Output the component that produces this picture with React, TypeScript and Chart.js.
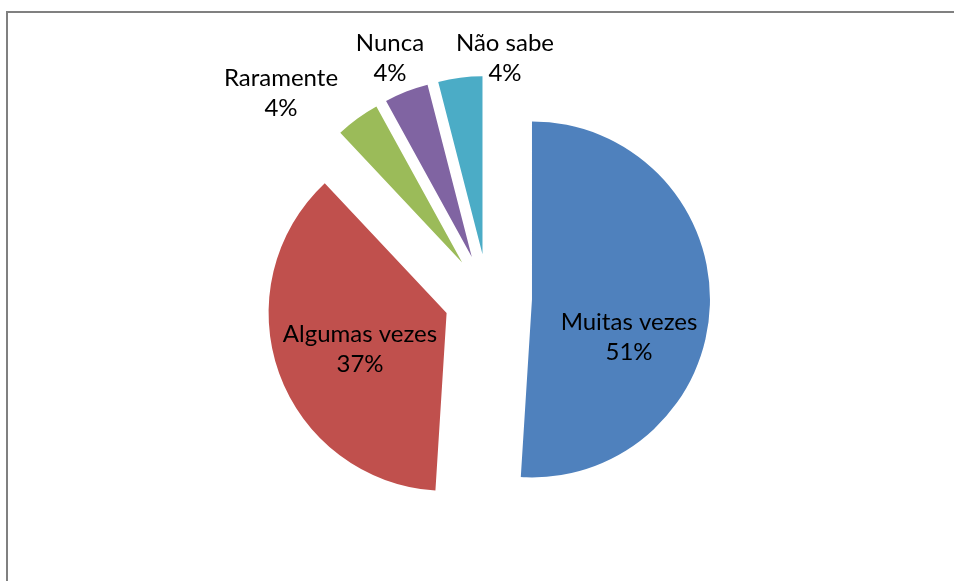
import React, { useEffect, useRef } from "react";
import { Chart, registerables } from "chart.js";

Chart.register(...registerables);

const categories = ["Muitas vezes", "Algumas vezes", "Raramente", "Nunca", "Não sabe"];
const values = [51, 37, 4, 4, 4];
const percentLabels = ["51%", "37%", "4%", "4%", "4%"];
const colors = ["#4F81BD", "#C0504D", "#9BBB59", "#8064A2", "#4BACC6"];
// how far each slice is pulled out of the pie (px)
const explode = [44, 44, 44, 44, 44];
// label block centre, relative to the pie centre (px)
const labelOffsets: [number, number][] = [
  [141, 39],
  [-128, 51],
  [-207, -205],
  [-98, -240],
  [17, -240],
];

const FONT = "24px Lato, 'Open Sans', sans-serif";
const LINE = 30;

const explodePlugin = {
  id: "explodedSlices",
  beforeDatasetDraw(chart: any, args: any) {
    const ctx = chart.ctx;
    const meta = chart.getDatasetMeta(args.index);
    meta.data.forEach((arc: any, i: number) => {
      const mid = (arc.startAngle + arc.endAngle) / 2;
      const d = explode[i] || 0;
      ctx.save();
      ctx.translate(Math.cos(mid) * d, Math.sin(mid) * d);
      arc.draw(ctx);
      ctx.restore();
    });
    return false;
  },
};

const labelPlugin = {
  id: "sliceLabels",
  afterDatasetsDraw(chart: any) {
    const ctx = chart.ctx;
    const meta = chart.getDatasetMeta(0);
    ctx.save();
    ctx.font = FONT;
    ctx.fillStyle = "#000000";
    ctx.textAlign = "center";
    ctx.textBaseline = "middle";
    meta.data.forEach((arc: any, i: number) => {
      const [dx, dy] = labelOffsets[i];
      const x = arc.x + dx;
      const y = arc.y + dy;
      ctx.fillText(categories[i], x, y - LINE / 2);
      ctx.fillText(percentLabels[i], x, y + LINE / 2);
    });
    ctx.restore();
  },
};

export default function App() {
  const ref = useRef<HTMLCanvasElement | null>(null);
  useEffect(() => {
    if (!ref.current) return;
    const chart = new Chart(ref.current, {
      type: "pie",
      data: {
        labels: categories,
        datasets: [
          {
            data: values,
            backgroundColor: colors,
            borderWidth: 0,
            offset: 0,
          },
        ],
      },
      options: {
        responsive: false,
        animation: false,
        radius: 178,
        layout: { padding: { left: 22, top: 15, right: 0, bottom: 0 } },
        plugins: {
          legend: { display: false },
          tooltip: { enabled: false },
        },
      } as any,
      plugins: [explodePlugin, labelPlugin],
    });
    return () => chart.destroy();
  }, []);

  return (
    <div
      style={{
        position: "fixed",
        left: 0,
        top: 0,
        width: 954,
        height: 581,
        overflow: "hidden",
        background: "#ffffff",
      }}
    >
      <div
        style={{
          position: "absolute",
          left: 6,
          top: 11,
          width: 1100,
          height: 800,
          border: "2px solid #808080",
          boxSizing: "border-box",
        }}
      />
      <canvas
        ref={ref}
        width={954}
        height={581}
        style={{ position: "absolute", left: 0, top: 0, width: 954, height: 581 }}
      />
    </div>
  );
}
